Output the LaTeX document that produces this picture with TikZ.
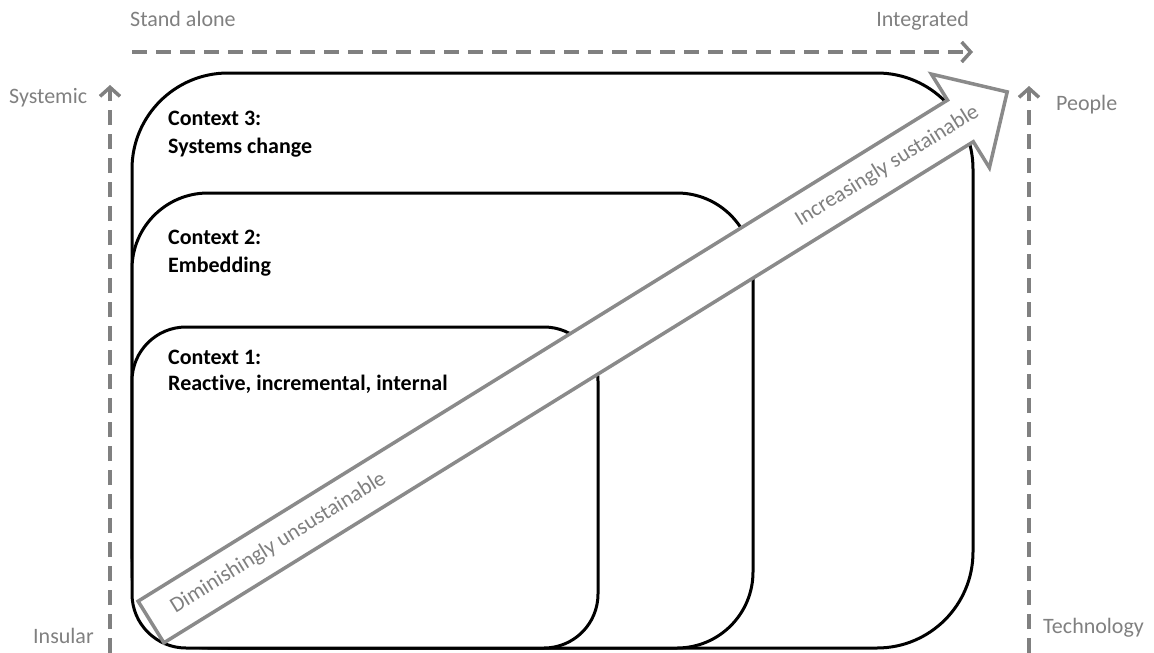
\documentclass[tikz,border=0pt]{standalone}
\usepackage{fontspec}
\setmainfont{Carlito}[Ligatures=NoCommon]
\usetikzlibrary{arrows.meta}
\definecolor{axisgray}{HTML}{808080}
\definecolor{arrowgray}{HTML}{8A8A8A}
\begin{document}
\begin{tikzpicture}[x=1pt,y=-1pt,
  ctxbox/.style={draw=black,fill=white,line width=3pt},
  axisline/.style={draw=axisgray,line width=3.5pt,dash pattern=on 15pt off 9pt,
    -{Straight Barb[length=9pt,width=20pt]}},
  lbl/.style={text=axisgray,font=\fontsize{22}{26}\selectfont,inner sep=0pt},
  ctxtext/.style={font=\bfseries\fontsize{22}{26}\selectfont,inner sep=0pt,anchor=base west},
  bigarrow/.style={fill=white,draw=arrowgray,line width=3.5pt,line join=miter},
  arrowtext/.style={text=axisgray,font=\fontsize{22}{26}\selectfont,inner sep=0pt,rotate=31.76}
]
\useasboundingbox (0,0) rectangle (1154,653);

% axis labels
\node[lbl,anchor=base west] (stand) at (130,27) {Stand alone};
\node[lbl,anchor=base east] (integ) at (969,26) {Integrated};
\node[lbl,anchor=base west] (syst) at (9,103) {Systemic};
\node[lbl,anchor=base west] (people) at (1056,110) {People};
\node[lbl,anchor=base west] (insular) at (33,643) {Insular};
\node[lbl,anchor=base west] (tech) at (1043,633) {Technology};

% axes
\coordinate (hS) at (132,52);
\coordinate (hE) at (973,52);
\coordinate (lS) at (110,653);
\coordinate (lE) at (110,85);
\coordinate (rS) at (1029,653);
\coordinate (rE) at (1029,86);
\draw[axisline] (hS) -- (hE);
\draw[axisline] (lS) -- (lE);
\draw[axisline] (rS) -- (rE);

% context boxes
\draw[ctxbox,rounded corners=96pt] (132,73) rectangle (973,648);
\draw[ctxbox,rounded corners=76pt] (132,193) rectangle (753,648);
\draw[ctxbox,rounded corners=54pt] (132,327) rectangle (598,648);

\node[ctxtext] (c3a) at (168,125) {Context 3:};
\node[ctxtext] (c3b) at (168,153) {Systems change};
\node[ctxtext] (c2a) at (168,244) {Context 2:};
\node[ctxtext] (c2b) at (168,272) {Embedding};
\node[ctxtext] (c1a) at (168,364) {Context 1:};
\node[ctxtext] (c1b) at (168,390) {Reactive, incremental, internal};

% big arrow
\draw[bigarrow] (138.1,601.2) -- (947.5,100.1) -- (931.4,74.1) -- (1007.2,91.9)
  -- (989.4,167.7) -- (973.3,141.7) -- (163.9,642.8) -- cycle;
\node[arrowtext] (dim) at (278.5,543) {Diminishingly unsustainable};
\node[arrowtext] (inc) at (887.3,166.1) {Increasingly sustainable};
\end{tikzpicture}
\end{document}
